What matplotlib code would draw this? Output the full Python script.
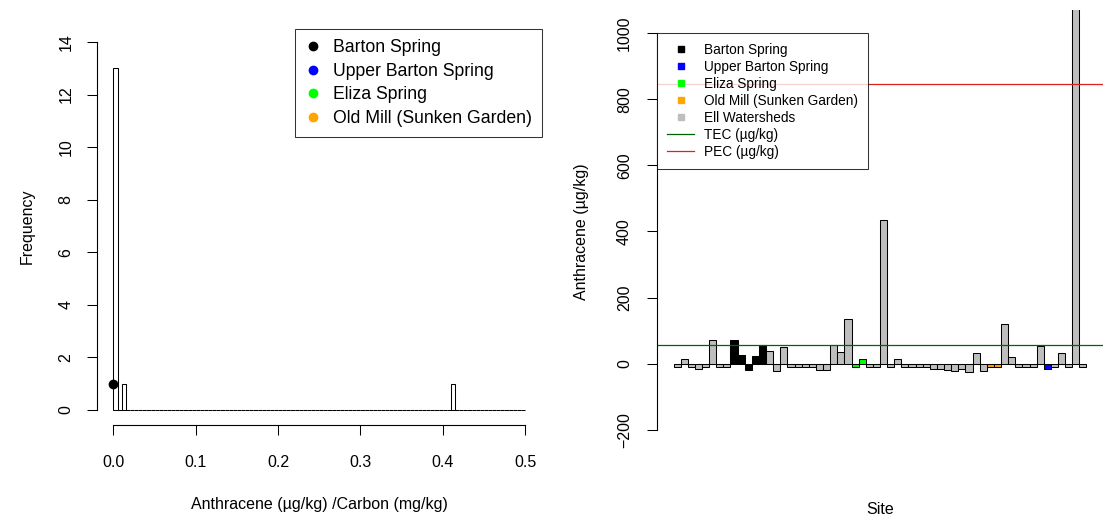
import matplotlib
matplotlib.use('Agg')
import matplotlib.pyplot as plt
import numpy as np
from matplotlib.lines import Line2D
from matplotlib.patches import Rectangle

plt.rcParams['font.family'] = ['Liberation Sans', 'DejaVu Sans']

# --- datos del histograma (izquierda) ---
bin_width = 0.005
hist_max = 0.5
filled_bins = [0.0, 0.01, 0.41]      # borde izquierdo de los bins con datos
filled_counts = [13, 1, 1]
spring_names = ['Barton Spring', 'Upper Barton Spring', 'Eliza Spring',
                'Old Mill (Sunken Garden)']
spring_colors = ['black', 'blue', '#00FF00', '#FFA500']
barton_ratio = 0.0
barton_freq = 1

# --- datos de barras por sitio (derecha) ---
site_values = [-9, 14, -9, -15, -9, 73, -9, -9, 72, 27, -18, 24, 56, 38,
               -22, 50, -9, -9, -9, -9, -20, -18, 58, 35, 137, -10, 14, -9,
               -9, 435, -10, 15, -10, -10, -10, -10, -15, -16, -20, -22, -15,
               -25, 32, -22, -10, -10, 120, 21, -10, -10, -10, 53, -15, -10,
               33, -10, 1250, -10]
site_groups = (['ell'] * 8 + ['barton'] * 5 + ['ell'] * 12 + ['eliza'] * 2 +
               ['ell'] * 17 + ['oldmill'] * 2 + ['ell'] * 6 + ['upper'] +
               ['ell'] * 5)
group_colors = {'barton': 'black', 'upper': 'blue', 'eliza': '#00FF00',
                'oldmill': '#FFA500', 'ell': '#BEBEBE'}
tec = 57.2
pec = 845
yticks_right = [-200, 0, 200, 400, 600, 800, 1000]

W, H = 1118, 520
fig = plt.figure(figsize=(W / 100, H / 100), dpi=100)

# ================= panel izquierdo =================
ax1 = fig.add_axes([97 / W, (H - 424.7) / H, (541.5 - 97) / W, (424.7 - 27.3) / H])
edges = np.arange(0, hist_max, bin_width)
counts = np.zeros(len(edges))
for b, c in zip(filled_bins, filled_counts):
    counts[int(round(b / bin_width))] = c
ax1.bar(edges, counts, width=bin_width, align='edge', color='white',
        edgecolor='black', linewidth=0.75)
ax1.plot([barton_ratio], [barton_freq], 'o', color=spring_colors[0],
         markersize=6, clip_on=False, zorder=5)
ax1.set_xlim(-0.02, 0.52)
ax1.set_ylim(-0.56, 14.56)
ax1.set_xticks([0, 0.1, 0.2, 0.3, 0.4, 0.5])
ax1.set_xticklabels(['0.0', '0.1', '0.2', '0.3', '0.4', '0.5'])
ax1.set_yticks(range(0, 15, 2))
for s in ['top', 'right']:
    ax1.spines[s].set_visible(False)
ax1.spines['left'].set_bounds(0, 14)
ax1.spines['bottom'].set_bounds(0, 0.5)
ax1.tick_params(axis='both', length=7, width=0.75, labelsize=11.5)
ax1.tick_params(axis='x', pad=15)
ax1.tick_params(axis='y', pad=10)
for lab in ax1.get_yticklabels():
    lab.set_rotation(90)
    lab.set_va('center')
ax1.set_xlabel('Anthracene (µg/kg) /Carbon (mg/kg)', fontsize=11.5, labelpad=19)
ax1.set_ylabel('Frequency', fontsize=11.5, labelpad=17)
h1 = [Line2D([], [], ls='none', marker='o', markersize=6, color=c)
      for c in spring_colors]
leg1 = ax1.legend(h1, spring_names, loc='upper right', bbox_to_anchor=(1, 0.995),
                  borderaxespad=0, fancybox=False, edgecolor='black',
                  fontsize=12.7, handlelength=1.0, handletextpad=0.6,
                  labelspacing=0.38, borderpad=0.55)
leg1.get_frame().set_linewidth(0.75)

# ================= panel derecho =================
ax2 = fig.add_axes([657 / W, (H - 430) / H, (1103 - 657) / W, (430 - 33) / H])
xpos = np.arange(len(site_values))
bar_colors = [group_colors[g] for g in site_groups]
bars = ax2.bar(xpos, site_values, width=1.0, color=bar_colors,
               edgecolor='black', linewidth=0.75)
clip = Rectangle((-0.2, -0.5), 1.4, 1.558, transform=ax2.transAxes)
for b in bars:
    b.set_clip_path(clip)
ax2.axhline(tec, color='#006400', linewidth=0.9)
ax2.axhline(pec, color='#E02020', linewidth=0.9)
pad = 0.04 * len(site_values)
ax2.set_xlim(-0.5 - pad, len(site_values) - 0.5 + pad)
ax2.set_ylim(-200, 1000)
ax2.set_yticks(yticks_right)
ax2.set_xticks([])
for s in ['top', 'right', 'bottom']:
    ax2.spines[s].set_visible(False)
ax2.spines['left'].set_bounds(-200, 1000)
ax2.tick_params(axis='y', length=7, width=0.75, labelsize=11.5, pad=11)
for lab in ax2.get_yticklabels():
    lab.set_rotation(90)
    lab.set_va('center')
ax2.set_ylabel('Anthracene (µg/kg)', fontsize=11.5, labelpad=20)
ax2.set_xlabel('Site', fontsize=11.5, labelpad=52)

leg_names = ['Barton Spring', 'Upper Barton Spring', 'Eliza Spring',
             'Old Mill (Sunken Garden)', 'Ell Watersheds']
leg_keys = ['barton', 'upper', 'eliza', 'oldmill', 'ell']
h2 = [Line2D([], [], ls='none', marker='s', markersize=4.5,
             color=group_colors[k]) for k in leg_keys]
h2 += [Line2D([], [], color='#006400', lw=0.9),
       Line2D([], [], color='#E02020', lw=0.9)]
leg2 = ax2.legend(h2, leg_names + ['TEC (µg/kg)', 'PEC (µg/kg)'],
                  loc='upper left', bbox_to_anchor=(0, 1), borderaxespad=0,
                  fancybox=False, edgecolor='black', fontsize=9.8,
                  handlelength=2.0, handletextpad=0.7, labelspacing=0.22,
                  borderpad=0.75)
leg2.get_frame().set_linewidth(0.75)

fig.savefig('out.png', dpi=100)
